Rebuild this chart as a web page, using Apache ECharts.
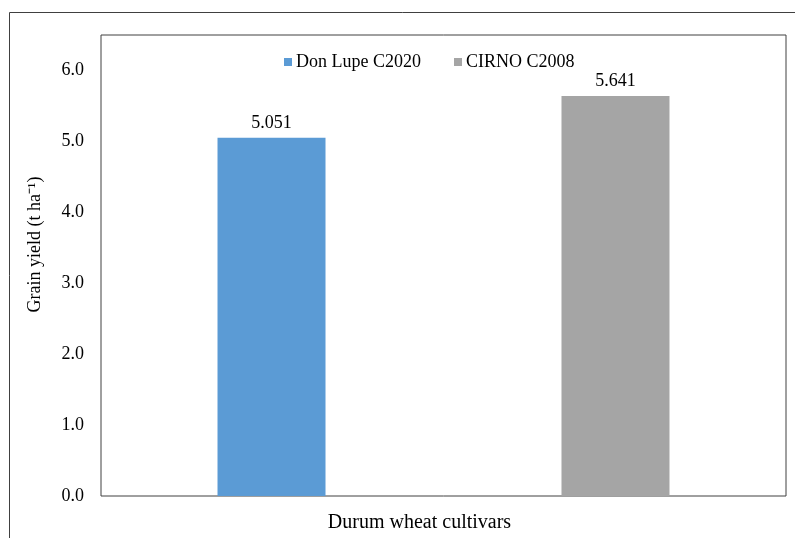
<!DOCTYPE html>
<html>
<head>
<meta charset="utf-8">
<script src="https://cdn.jsdelivr.net/npm/echarts@6/dist/echarts.min.js"></script>
<style>
html,body{margin:0;padding:0;background:#fff;}
#chart{width:795px;height:538px;}
</style>
</head>
<body>
<div id="chart"></div>
<script>
var categories = ['Durum wheat cultivars'];
var seriesNames = ['Don Lupe C2020', 'CIRNO C2008'];
var donLupe = [5.051];
var cirno = [5.641];
var yTicks = ['0.0','1.0','2.0','3.0','4.0','5.0','6.0'];

var font = 'Liberation Serif';
var chart = echarts.init(document.getElementById('chart'));
chart.setOption({
  animation: false,
  backgroundColor: '#fff',
  textStyle: {fontFamily: font},
  graphic: [{
    type: 'rect',
    shape: {x: 9.5, y: 12.5, width: 800, height: 540},
    style: {fill: 'none', stroke: '#404040', lineWidth: 1},
    silent: true
  }],
  grid: {
    left: 101, top: 35, width: 685, height: 462,
    show: true, borderColor: '#404040', borderWidth: 1, backgroundColor: 'transparent'
  },
  legend: {
    left: 279, top: 48,
    icon: 'rect', itemWidth: 8, itemHeight: 8, itemGap: 33,
    textStyle: {fontFamily: font, fontSize: 18, color: '#000', padding: [0,0,0,-1]},
    data: seriesNames
  },
  xAxis: {
    type: 'category',
    data: categories,
    axisLabel: {show: false},
    axisTick: {show: false},
    axisLine: {show: false},
    name: 'Durum wheat cultivars',
    nameLocation: 'middle',
    nameGap: 17,
    nameTextStyle: {fontFamily: font, fontSize: 20, color: '#000', padding: [0, 48, 0, 0]}
  },
  yAxis: {
    type: 'value',
    min: 0, max: 6.5, interval: 1,
    axisLine: {show: false},
    axisTick: {show: false},
    splitLine: {show: false},
    axisLabel: {
      margin: 17, fontFamily: font, fontSize: 18, color: '#000',
      showMaxLabel: false,
      formatter: function (v) { var i = Math.round(v); return (Math.abs(v - i) < 1e-9 && yTicks[i]) ? yTicks[i] : ''; }
    },
    name: 'Grain yield (t ha\u207B\u00B9)',
    nameLocation: 'middle',
    nameGap: 57,
    nameTextStyle: {fontFamily: font, fontSize: 18, color: '#000', padding: [0, 0, 0, 42]}
  },
  series: [{
    name: seriesNames[0], type: 'bar', data: donLupe,
    barWidth: 108, barGap: '218.5%',
    itemStyle: {color: '#5B9BD5'},
    label: {show: true, position: 'top', distance: 6, fontFamily: font, fontSize: 18, color: '#000',
      formatter: function (p) { return p.value.toFixed(3); }}
  }, {
    name: seriesNames[1], type: 'bar', data: cirno,
    barWidth: 108,
    itemStyle: {color: '#A5A5A5'},
    label: {show: true, position: 'top', distance: 6, fontFamily: font, fontSize: 18, color: '#000',
      formatter: function (p) { return p.value.toFixed(3); }}
  }]
});
</script>
</body>
</html>
